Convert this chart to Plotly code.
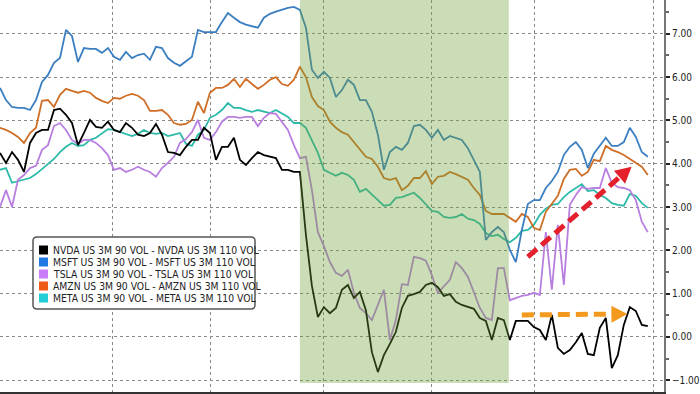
import plotly.graph_objects as go

# ---------------- data ----------------
series_names = [
    "NVDA US 3M 90 VOL - NVDA US 3M 110 VOL",
    "MSFT US 3M 90 VOL - MSFT US 3M 110 VOL",
    "TSLA US 3M 90 VOL - TSLA US 3M 110 VOL",
    "AMZN US 3M 90 VOL - AMZN US 3M 110 VOL",
    "META US 3M 90 VOL - META US 3M 110 VOL",
]

nvda = [4.25, 4.02, 4.27, 4.09, 3.81, 4.48, 4.71, 4.78, 4.78, 5.24,
        5.27, 5.13, 4.94, 4.43, 4.71, 5.01, 4.85, 4.83, 4.97, 4.78,
        4.73, 4.94, 4.83, 4.67, 4.64, 4.71, 4.92, 4.67, 4.27, 4.25,
        4.20, 4.39, 4.55, 4.55, 4.83, 4.71, 4.09, 4.39, 4.39, 4.60,
        4.09, 3.97, 4.13, 4.27, 4.20, 4.16, 4.13, 3.86, 3.86, 3.81,
        3.81, 2.36, 1.18, 0.46, 0.69, 0.55, 0.67, 1.09, 1.20, 0.90,
        1.04, 0.62, -0.35, -0.81, -0.42, -0.16, 0.12, 0.67, 0.95, 0.99,
        1.04, 1.20, 1.25, 1.15, 0.95, 0.99, 0.81, 0.74, 0.69, 0.65,
        0.44, 0.37, -0.07, 0.44, 0.39, -0.07, 0.37, 0.37, 0.37, 0.23,
        0.16, -0.07, 0.51, -0.25, -0.39, -0.30, -0.12, 0.09, -0.39, -0.42,
        0.21, 0.44, -0.72, -0.42, 0.28, 0.69, 0.60, 0.28, 0.25]

msft = [5.75, 5.47, 5.31, 5.29, 5.29, 5.24, 5.47, 5.89, 6.05, 6.33,
        6.44, 7.09, 6.95, 6.35, 6.67, 6.65, 6.65, 6.56, 6.67, 6.47,
        6.40, 6.58, 6.44, 6.51, 6.54, 6.40, 6.70, 6.67, 6.44, 6.33,
        6.26, 6.37, 6.47, 7.09, 7.04, 7.04, 7.04, 7.27, 7.48, 7.37,
        7.27, 7.21, 7.18, 7.14, 7.37, 7.46, 7.51, 7.55, 7.60, 7.62,
        7.55, 7.14, 6.17, 5.98, 6.12, 5.98, 5.54, 5.70, 5.94, 5.82,
        5.47, 5.47, 5.20, 4.67, 3.86, 4.27, 4.39, 4.32, 4.48, 4.87,
        4.90, 4.78, 4.60, 4.78, 4.55, 4.64, 4.60, 4.55, 4.36, 4.09,
        3.81, 2.24, 2.42, 2.54, 2.42, 2.01, 1.73, 2.47, 3.07, 3.16,
        3.16, 3.44, 3.60, 3.81, 4.20, 4.39, 4.50, 4.32, 3.90, 4.23,
        4.41, 4.60, 4.41, 4.41, 4.50, 4.83, 4.62, 4.27, 4.16]

tsla = [3.00, 3.39, 3.00, 3.63, 3.74, 3.90, 3.95, 4.32, 4.43, 4.87,
        4.94, 4.78, 4.55, 4.46, 4.55, 4.55, 4.48, 4.36, 4.20, 3.86,
        3.90, 3.81, 3.86, 3.93, 3.86, 3.81, 3.70, 3.90, 4.02, 4.16,
        4.48, 4.57, 4.73, 5.01, 4.60, 4.55, 4.73, 4.97, 5.08, 5.08,
        5.06, 5.08, 5.08, 4.87, 5.06, 5.17, 5.15, 4.97, 4.78, 4.43,
        4.13, 4.16, 3.39, 2.42, 2.10, 1.73, 1.48, 1.41, 1.55, 1.02,
        0.67, 0.55, 0.39, 0.74, 1.09, -0.07, 0.39, 1.22, 1.20, 1.85,
        1.82, 1.76, 1.43, 1.02, 1.18, 1.32, 1.73, 1.59, 1.39, 1.04,
        0.67, 0.44, 0.39, 1.59, 1.59, 0.85, 0.90, 0.95, 0.97, 1.02,
        0.97, 2.42, 1.09, 2.59, 1.20, 3.05, 3.28, 3.46, 3.42, 3.44,
        3.44, 3.90, 3.56, 3.46, 3.44, 3.39, 3.16, 2.66, 2.42]

amzn = [4.83, 4.78, 4.71, 4.62, 4.48, 4.71, 4.83, 5.45, 5.47, 5.31,
        5.59, 5.73, 5.68, 5.64, 5.68, 5.64, 5.52, 5.45, 5.40, 5.52,
        5.50, 5.57, 5.61, 5.57, 5.47, 5.22, 5.22, 5.24, 5.13, 4.94,
        4.90, 4.92, 5.01, 5.43, 5.17, 5.64, 5.75, 5.75, 5.82, 5.96,
        5.77, 5.96, 5.84, 5.73, 5.82, 5.94, 6.00, 5.84, 5.80, 5.94,
        6.24, 6.00, 5.54, 5.33, 5.24, 4.97, 4.83, 4.73, 4.67, 4.50,
        4.32, 4.16, 4.11, 3.93, 3.67, 3.63, 3.67, 3.39, 3.49, 3.67,
        3.67, 3.83, 3.53, 3.70, 3.72, 3.81, 3.76, 3.70, 3.63, 3.44,
        3.28, 2.91, 2.84, 2.84, 2.84, 2.75, 2.66, 2.84, 2.77, 2.52,
        2.47, 2.89, 3.07, 3.26, 3.65, 3.86, 3.88, 3.72, 3.81, 4.09,
        4.06, 4.41, 4.32, 4.27, 4.20, 4.11, 4.04, 3.93, 3.74]

meta = [3.86, 3.90, 3.56, 3.60, 3.63, 3.67, 3.76, 3.88, 4.00, 4.11,
        4.27, 4.39, 4.48, 4.41, 4.43, 4.55, 4.60, 4.69, 4.80, 4.78,
        4.73, 4.69, 4.64, 4.69, 4.78, 4.71, 4.69, 4.71, 4.64, 4.67,
        4.71, 4.46, 4.41, 4.67, 4.78, 5.06, 5.13, 5.24, 5.40, 5.29,
        5.29, 5.24, 5.20, 5.24, 5.20, 5.17, 5.24, 5.15, 5.08, 4.94,
        4.94, 4.83, 4.55, 4.25, 3.86, 3.79, 3.72, 3.79, 3.74, 3.63,
        3.35, 3.42, 3.30, 3.16, 3.03, 3.05, 3.21, 3.23, 3.28, 3.33,
        3.21, 3.07, 2.91, 2.89, 2.77, 2.75, 2.77, 2.84, 2.73, 2.70,
        2.61, 2.40, 2.33, 2.36, 2.26, 2.19, 2.29, 2.45, 2.47, 2.59,
        2.82, 2.96, 3.05, 3.07, 3.23, 3.35, 3.44, 3.53, 3.37, 3.39,
        3.28, 3.21, 3.09, 3.05, 3.03, 3.30, 3.26, 3.09, 2.98]

series_values = [nvda, msft, tsla, amzn, meta]
y_tick_values = [-1, 0, 1, 2, 3, 4, 5, 6, 7]
month_grid = [18.83, 35.17, 54, 72, 89.17, 109]
shade_x = (50, 84.83)

# ---------------- styles ----------------
line_colors = ["#000000", "#3b7fc0", "#b87fe0", "#cf6f27", "#2cbaa9"]
legend_colors = ["#000000", "#1f78e4", "#c97cf7", "#ef5b16", "#22cdd8"]

X_RANGE = [0, 110.7]
Y_RANGE = [-1.27, 7.78]
R_MARGIN = 36
PLOT_W, PLOT_H = 700 - R_MARGIN, 392
XS = PLOT_W / (X_RANGE[1] - X_RANGE[0])
YS = PLOT_H / (Y_RANGE[1] - Y_RANGE[0])


def PX(px):
    return px / PLOT_W


def PY(py):
    return 1 - py / PLOT_H


fig = go.Figure()
for i in [4, 3, 2, 1, 0]:
    vals = series_values[i]
    fig.add_trace(go.Scatter(
        x=list(range(len(vals))), y=vals, mode="lines", name=series_names[i],
        line=dict(color=line_colors[i], width=1.8), showlegend=False,
        hoverinfo="skip"))

shapes = []
# green highlighted period (drawn above lines, translucent)
shapes.append(dict(type="rect", xref="x", yref="y", x0=shade_x[0], x1=shade_x[1],
                   y0=-1.06, y1=Y_RANGE[1], fillcolor="rgba(112,161,52,0.36)",
                   line=dict(width=0), layer="above"))


def dashed_arrow(x0, y0, x1, y1, color, head_len=16, head_half=8.5):
    dxp = (x1 - x0) * XS
    dyp = (y1 - y0) * YS
    L = (dxp ** 2 + dyp ** 2) ** 0.5
    ux, uy = dxp / L, dyp / L
    nx, ny = -uy, ux
    bx = x1 - ux * head_len / XS
    by = y1 - uy * head_len / YS
    shaft_end_x = x1 - ux * (head_len - 2) / XS
    shaft_end_y = y1 - uy * (head_len - 2) / YS
    shapes.append(dict(type="line", xref="x", yref="y", x0=x0, y0=y0,
                       x1=shaft_end_x, y1=shaft_end_y,
                       line=dict(color=color, width=5, dash="12px,6px"), layer="above"))
    p1 = (bx + nx * head_half / XS, by + ny * head_half / YS)
    p2 = (bx - nx * head_half / XS, by - ny * head_half / YS)
    path = f"M {x1},{y1} L {p1[0]},{p1[1]} L {p2[0]},{p2[1]} Z"
    shapes.append(dict(type="path", xref="x", yref="y", path=path,
                       fillcolor=color, line=dict(width=0), layer="above"))


dashed_arrow(88.0, 1.85, 105.3, 3.93, "#e3202b")
dashed_arrow(87.0, 0.51, 104.6, 0.53, "#f39a1e")

# manual legend box (rounded)
lx0, lx1, ly0, ly1, r = 33, 255, 237, 309, 4
path = (f"M {PX(lx0 + r)},{PY(ly0)} L {PX(lx1 - r)},{PY(ly0)} "
        f"Q {PX(lx1)},{PY(ly0)} {PX(lx1)},{PY(ly0 + r)} "
        f"L {PX(lx1)},{PY(ly1 - r)} Q {PX(lx1)},{PY(ly1)} {PX(lx1 - r)},{PY(ly1)} "
        f"L {PX(lx0 + r)},{PY(ly1)} Q {PX(lx0)},{PY(ly1)} {PX(lx0)},{PY(ly1 - r)} "
        f"L {PX(lx0)},{PY(ly0 + r)} Q {PX(lx0)},{PY(ly0)} {PX(lx0 + r)},{PY(ly0)} Z")
shapes.append(dict(type="path", xref="paper", yref="paper", path=path,
                   fillcolor="white", line=dict(color="#555555", width=1.5), layer="above"))

annotations = []
row_y = [250, 262, 274, 286, 298]
for name, col, ry in zip(series_names, legend_colors, row_y):
    shapes.append(dict(type="rect", xref="paper", yref="paper",
                       x0=PX(39), x1=PX(48), y0=PY(ry + 4.5), y1=PY(ry - 4.5),
                       fillcolor=col, line=dict(width=0), layer="above"))
    annotations.append(dict(x=PX(50.5), y=PY(ry), xref="paper", yref="paper",
                            text=name, showarrow=False, xanchor="left", yanchor="middle",
                            font=dict(family="DejaVu Sans Condensed", size=10.3, color="#222222")))

fig.update_layout(
    width=700, height=394,
    margin=dict(l=0, r=R_MARGIN, t=0, b=2),
    plot_bgcolor="white", paper_bgcolor="white",
    shapes=shapes, annotations=annotations,
    showlegend=False,
    xaxis=dict(range=X_RANGE, tickvals=month_grid, showticklabels=False,
               showgrid=True, gridcolor="#8a8a8a", griddash="dot", gridwidth=1,
               showline=True, linecolor="#333333", linewidth=2, zeroline=False,
               ticks="", fixedrange=True),
    yaxis=dict(range=Y_RANGE, side="right", tickvals=y_tick_values, tickformat=".2f",
               showgrid=True, gridcolor="#8a8a8a", griddash="dot", gridwidth=1,
               showline=True, linecolor="#777777", linewidth=2, zeroline=False,
               ticks="outside", ticklen=4, tickwidth=2, tickcolor="#222222",
               minor=dict(ticks="outside", ticklen=3, dtick=0.5, tickcolor="#666666",
                          showgrid=False),
               tickfont=dict(family="DejaVu Sans Condensed", size=10, color="#222222"),
               automargin=False, fixedrange=True),
)

fig.write_html("out.html", config={"displayModeBar": False},
               post_script="document.body.style.margin='0';document.body.style.padding='0';")
